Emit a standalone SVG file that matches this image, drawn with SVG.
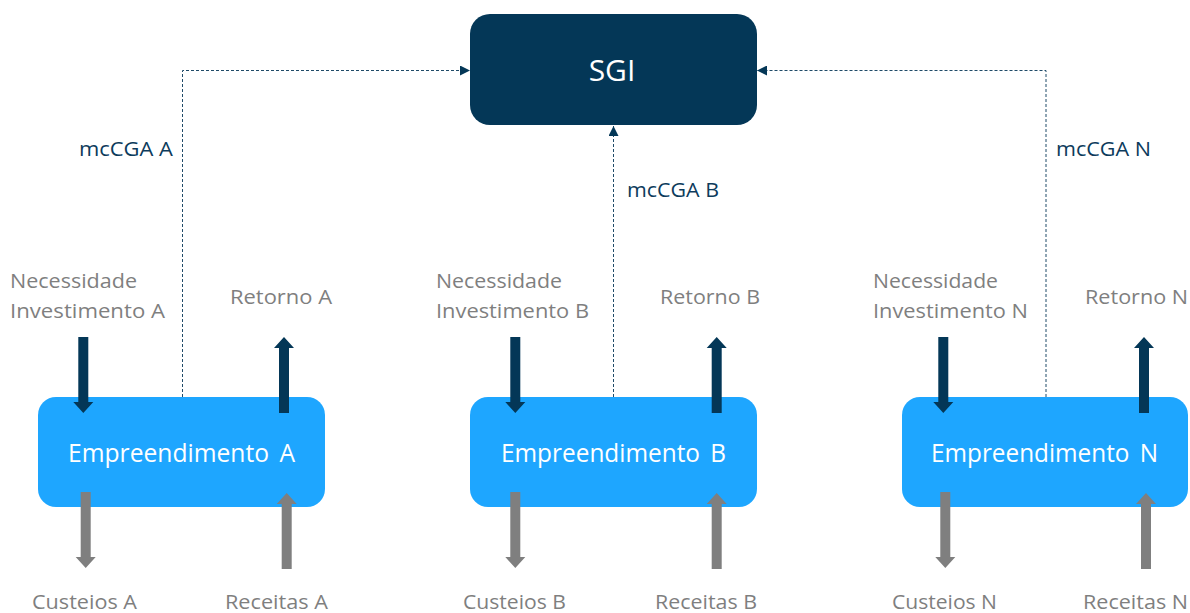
<svg xmlns="http://www.w3.org/2000/svg" width="1190" height="613" viewBox="0 0 1190 613">
  <style>
    .lbl { font-family: "Open Sans", "Noto Sans", "Liberation Sans", sans-serif; font-size: 20px; fill: #7f7f7f; }
    .mc { font-family: "Open Sans", "Noto Sans", "Liberation Sans", sans-serif; font-size: 20px; fill: #0d3b5c; }
    .emp { font-family: "Open Sans", "Noto Sans", "Liberation Sans", sans-serif; font-size: 25px; fill: #ffffff; text-anchor: middle; word-spacing: 4px; }
    .sgi { font-family: "Open Sans", "Noto Sans", "Liberation Sans", sans-serif; font-size: 30px; fill: #ffffff; text-anchor: middle; }
    .boxE { fill: #1ea6ff; }
    .boxS { fill: #043757; }
    .dash { fill: none; stroke: #1f4a68; stroke-width: 1; stroke-dasharray: 3 2; }
    .dark { fill: #043757; }
    .gray { fill: #7f7f7f; }
  </style>
  <defs>
    <marker id="tri" viewBox="0 0 10 10" refX="10" refY="5" markerWidth="10" markerHeight="10" markerUnits="userSpaceOnUse" orient="auto">
      <path d="M0,0 L10,5 L0,10 Z" fill="#043757"/>
    </marker>
    <!-- block arrows, tip at the origin -->
    <path id="down" d="M-5,-76 L5,-76 L5,-11 L10,-11 L0,0 L-10,-11 L-5,-11 Z"/>
    <path id="up" d="M-5,76 L5,76 L5,11 L10,11 L0,0 L-10,11 L-5,11 Z"/>
  </defs>

  <!-- connectors -->
  <g id="connectors">
    <path class="dash" d="M182.5,397 V70.5 H470" marker-end="url(#tri)"/>
    <path class="dash" d="M613.5,397 V126" marker-end="url(#tri)"/>
    <path class="dash" d="M1046,397 V70.5 H757" marker-end="url(#tri)"/>
  </g>

  <g id="sgi">
    <rect class="boxS" x="470" y="14" width="287" height="111" rx="20"/>
    <text class="sgi" x="612" y="81">SGI</text>
  </g>

  <!-- flow labels -->
  <g id="flow-labels">
    <text class="mc" x="79" y="156" textLength="94" lengthAdjust="spacingAndGlyphs">mcCGA A</text>
    <text class="mc" x="627" y="197" textLength="92" lengthAdjust="spacingAndGlyphs">mcCGA B</text>
    <text class="mc" x="1056" y="156" textLength="95" lengthAdjust="spacingAndGlyphs">mcCGA N</text>
  </g>

  <!-- Empreendimento A -->
  <g id="empreendimento-a">
    <rect class="boxE" x="38" y="397" width="287" height="110" rx="18"/>
    <text class="emp" x="181.5" y="462" textLength="227" lengthAdjust="spacingAndGlyphs">Empreendimento A</text>
    <text class="lbl" x="10" y="288" textLength="127" lengthAdjust="spacingAndGlyphs">Necessidade</text>
    <text class="lbl" x="10" y="318" textLength="155" lengthAdjust="spacingAndGlyphs">Investimento A</text>
    <text class="lbl" x="230" y="304" textLength="102" lengthAdjust="spacingAndGlyphs">Retorno A</text>
    <text class="lbl" x="32" y="609" textLength="105" lengthAdjust="spacingAndGlyphs">Custeios A</text>
    <text class="lbl" x="225" y="609" textLength="103" lengthAdjust="spacingAndGlyphs">Receitas A</text>
    <use href="#down" class="dark" x="83.3" y="413"/>
    <use href="#up" class="dark" x="284" y="337"/>
    <use href="#down" class="gray" x="85.7" y="568"/>
    <use href="#up" class="gray" x="286.7" y="493"/>
  </g>

  <!-- Empreendimento B -->
  <g id="empreendimento-b">
    <rect class="boxE" x="470" y="397" width="287" height="110" rx="18"/>
    <text class="emp" x="613.5" y="462" textLength="225" lengthAdjust="spacingAndGlyphs">Empreendimento B</text>
    <text class="lbl" x="436" y="288" textLength="126" lengthAdjust="spacingAndGlyphs">Necessidade</text>
    <text class="lbl" x="436" y="318" textLength="153" lengthAdjust="spacingAndGlyphs">Investimento B</text>
    <text class="lbl" x="660" y="304" textLength="100" lengthAdjust="spacingAndGlyphs">Retorno B</text>
    <text class="lbl" x="463" y="609" textLength="103" lengthAdjust="spacingAndGlyphs">Custeios B</text>
    <text class="lbl" x="655" y="609" textLength="102" lengthAdjust="spacingAndGlyphs">Receitas B</text>
    <use href="#down" class="dark" x="515.3" y="413"/>
    <use href="#up" class="dark" x="716.7" y="337"/>
    <use href="#down" class="gray" x="515.3" y="568"/>
    <use href="#up" class="gray" x="716.7" y="493"/>
  </g>

  <!-- Empreendimento N -->
  <g id="empreendimento-n">
    <rect class="boxE" x="902" y="397" width="286" height="110" rx="18"/>
    <text class="emp" x="1044.5" y="462" textLength="227" lengthAdjust="spacingAndGlyphs">Empreendimento N</text>
    <text class="lbl" x="873" y="288" textLength="125" lengthAdjust="spacingAndGlyphs">Necessidade</text>
    <text class="lbl" x="873" y="318" textLength="155" lengthAdjust="spacingAndGlyphs">Investimento N</text>
    <text class="lbl" x="1085" y="304" textLength="103" lengthAdjust="spacingAndGlyphs">Retorno N</text>
    <text class="lbl" x="892" y="609" textLength="105" lengthAdjust="spacingAndGlyphs">Custeios N</text>
    <text class="lbl" x="1083" y="609" textLength="105" lengthAdjust="spacingAndGlyphs">Receitas N</text>
    <use href="#down" class="dark" x="943.3" y="413"/>
    <use href="#up" class="dark" x="1144" y="337"/>
    <use href="#down" class="gray" x="945.3" y="568"/>
    <use href="#up" class="gray" x="1146" y="493"/>
  </g>
</svg>
